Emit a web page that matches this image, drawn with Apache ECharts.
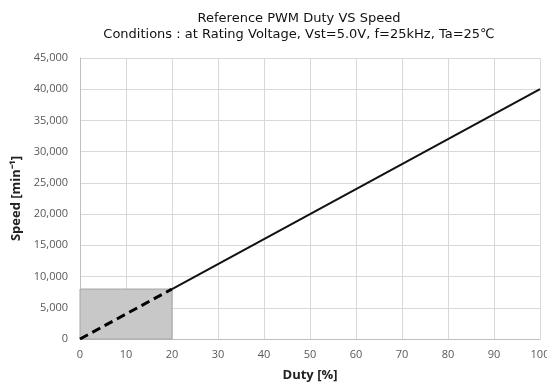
<!DOCTYPE html>
<html>
<head>
<meta charset="utf-8">
<script src="https://cdn.jsdelivr.net/npm/echarts@6/dist/echarts.min.js"></script>
<style>
  html, body { margin: 0; padding: 0; background: #fff; }
  #chart { width: 547px; height: 387px; }
</style>
</head>
<body>
<div id="chart"></div>
<script>
// duty [%] and speed [min-1]
const dashedDuty = [0, 20];
const dashedSpeed = [0, 8000];
const solidDuty = [20, 100];
const solidSpeed = [8000, 40000];
// shaded low-duty zone
const zoneDuty = [0, 20];
const zoneSpeed = [0, 8000];

const pairs = (xs, ys) => xs.map((x, i) => [x, ys[i]]);

const chart = echarts.init(document.getElementById('chart'));

const tickStyle = { color: '#595959', fontSize: 11, fontFamily: 'Open Sans' };

chart.setOption({
  animation: false,
  title: {
    text: 'Reference PWM Duty VS Speed\nConditions : at Rating Voltage, Vst=5.0V, f=25kHz, Ta=25\u2103',
    left: 294,
    textAlign: 'center',
    top: 6,
    textStyle: {
      fontSize: 13,
      fontWeight: 'normal',
      color: '#111',
      lineHeight: 16,
      fontFamily: 'DejaVu Sans'
    }
  },
  grid: { left: 80, right: 7, top: 58, bottom: 48, outerBoundsMode: 'none' },
  xAxis: {
    type: 'value',
    min: 0,
    max: 100,
    interval: 10,
    name: 'Duty [%]',
    nameLocation: 'middle',
    nameGap: 30,
    nameTextStyle: { fontSize: 13, color: '#222', fontWeight: 'bold', fontFamily: 'Open Sans' },
    axisLine: { lineStyle: { color: '#bfbfbf' } },
    axisTick: { show: false },
    axisLabel: Object.assign({ margin: 10 }, tickStyle),
    splitLine: { show: true, lineStyle: { color: '#d9d9d9' } }
  },
  yAxis: {
    type: 'value',
    min: 0,
    max: 45000,
    interval: 5000,
    name: 'Speed [min\u207B\u00B9]',
    nameLocation: 'middle',
    nameGap: 57,
    nameTextStyle: { fontSize: 13, color: '#222', fontWeight: 'bold', fontFamily: 'Open Sans' },
    axisLine: { show: true, lineStyle: { color: '#bfbfbf' } },
    axisTick: { show: false },
    axisLabel: Object.assign({
      margin: 12,
      formatter: v => v.toLocaleString('en-US')
    }, tickStyle),
    splitLine: { show: true, lineStyle: { color: '#d9d9d9' } }
  },
  series: [
    {
      name: 'low duty',
      type: 'line',
      data: pairs(dashedDuty, dashedSpeed),
      symbol: 'none',
      lineStyle: { color: '#000', width: 3, type: [9, 5] },
      markArea: {
        silent: true,
        itemStyle: { color: '#c8c8c8', borderColor: '#a6a6a6', borderWidth: 1 },
        data: [[
          { xAxis: zoneDuty[0], yAxis: zoneSpeed[0] },
          { xAxis: zoneDuty[1], yAxis: zoneSpeed[1] }
        ]]
      },
      z: 3
    },
    {
      name: 'speed',
      type: 'line',
      data: pairs(solidDuty, solidSpeed),
      symbol: 'none',
      lineStyle: { color: '#111', width: 2 },
      z: 3
    }
  ]
});
</script>
</body>
</html>
